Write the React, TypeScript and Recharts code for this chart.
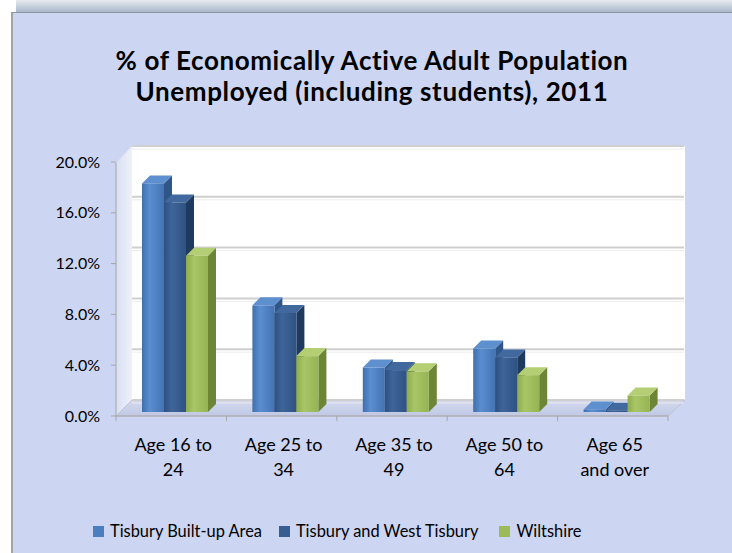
import React from 'react';
import { BarChart, Bar, XAxis, YAxis, CartesianGrid } from 'recharts';

const categories = ['Age 16 to 24', 'Age 25 to 34', 'Age 35 to 49', 'Age 50 to 64', 'Age 65 and over'];
const categoryLines = [
  ['Age 16 to', '24'],
  ['Age 25 to', '34'],
  ['Age 35 to', '49'],
  ['Age 50 to', '64'],
  ['Age 65', 'and over'],
];
const tisburyBuiltUp = [18.0, 8.4, 3.5, 5.0, 0.2];
const tisburyWest = [16.5, 7.8, 3.3, 4.3, 0.1];
const wiltshire = [12.3, 4.4, 3.2, 2.9, 1.3];
const yTicks = [0, 4, 8, 12, 16, 20];
const seriesNames = ['Tisbury Built-up Area', 'Tisbury and West Tisbury', 'Wiltshire'];
const seriesColors = ['#4A7EC0', '#375D91', '#9BBB59'];

const data = categories.map((c, i) => ({
  category: c,
  tba: tisburyBuiltUp[i],
  twt: tisburyWest[i],
  wil: wiltshire[i],
}));

const FONT = 'Lato, "Open Sans", sans-serif';
const DEPTH = 8;

const make3D = (fillId: string, top: string, side: string) => (props: any) => {
  const { x: mx, y, width, height } = props;
  if (mx == null || y == null) return <g />;
  const d = DEPTH;
  const x = mx - 4;
  const fy = y + 4;
  const h = Math.max(height || 0, 0);
  return (
    <g>
      <polygon
        points={`${x + width},${fy} ${x + width + d},${fy - d} ${x + width + d},${fy + h - d} ${x + width},${fy + h}`}
        fill={side}
      />
      <polygon
        points={`${x},${fy} ${x + d},${fy - d} ${x + width + d},${fy - d} ${x + width},${fy}`}
        fill={top}
      />
      <rect x={x} y={fy} width={width} height={h} fill={`url(#${fillId})`} />
    </g>
  );
};

const YTick = (props: any) => {
  const { y, payload } = props;
  const fy = y + 8;
  return (
    <g>
      <line x1={111} y1={fy} x2={116} y2={fy} stroke="#A6A6A6" />
      <text x={100} y={fy + 5.5} textAnchor="end" fontSize={16} fill="#000" fontFamily={FONT}>
        {`${Number(payload.value).toFixed(1)}%`}
      </text>
    </g>
  );
};

const XTick = (props: any) => {
  const { x, payload, index } = props;
  const i = categories.indexOf(payload.value);
  const lines = categoryLines[i >= 0 ? i : index] || [String(payload.value)];
  return (
    <text x={x - 6} y={451} textAnchor="middle" fontSize={18} fill="#000" fontFamily={FONT}>
      {lines.map((l, k) => (
        <tspan key={k} x={x - 6} dy={k === 0 ? 0 : 25}>
          {l}
        </tspan>
      ))}
    </text>
  );
};

const gridLine = (props: any) => {
  const { x1, y1, x2, y2, index } = props;
  return (
    <g key={`g-${index}-${y1}`}>
      <line x1={x1 + 8} y1={y1 - 8} x2={x2 + 8} y2={y2 - 8} stroke="#CFCFCF" strokeWidth={2} />
      <line x1={x1 + 8} y1={y1 - 5} x2={x2 + 8} y2={y2 - 5} stroke="#ECECEC" strokeWidth={1} />
    </g>
  );
};

export default function App() {
  return (
    <div
      style={{
        position: 'absolute',
        left: 0,
        top: 0,
        width: 732,
        height: 553,
        background: '#FFFFFF',
        overflow: 'hidden',
        fontFamily: FONT,
      }}
    >
      <div
        style={{
          position: 'absolute',
          left: 16,
          top: 0,
          width: 716,
          height: 12,
          background: 'linear-gradient(to bottom, #E6EAEF, #A9B8CA)',
        }}
      />
      <div
        style={{
          position: 'absolute',
          left: 11,
          top: 12,
          width: 721,
          height: 541,
          background: '#CCD5F2',
          borderLeft: '2px solid #A3A3A3',
          borderTop: '1px solid #8C939C',
          boxSizing: 'border-box',
        }}
      />
      <div
        style={{
          position: 'absolute',
          left: 12,
          top: 45,
          width: 720,
          textAlign: 'center',
          fontWeight: 700,
          fontSize: 26,
          letterSpacing: 0.6,
          lineHeight: '31px',
          color: '#000',
        }}
      >
        % of Economically Active Adult Population
        <br />
        Unemployed (including students), 2011
      </div>
      <svg width={732} height={553} style={{ position: 'absolute', left: 0, top: 0 }}>
        <defs>
          <linearGradient id="sideWall" x1="0" y1="0" x2="1" y2="0">
            <stop offset="0" stopColor="#D9DFF2" />
            <stop offset="1" stopColor="#EEF1F9" />
          </linearGradient>
          <linearGradient id="floorG" x1="0" y1="0" x2="0" y2="1">
            <stop offset="0" stopColor="#D3D9EE" />
            <stop offset="1" stopColor="#C0C8E6" />
          </linearGradient>
        </defs>
        <polygon points="116,163 132,146 132,400 116,416" fill="url(#sideWall)" />
        <rect x={132} y={146} width={553} height={254} fill="#FFFFFF" />
        <polygon points="116,416 132,400 685,400 668,416" fill="url(#floorG)" stroke="#BFC3CF" strokeWidth={1} />
        <line x1={116} y1={163} x2={116} y2={416} stroke="#A6A6A6" />
        <line x1={116} y1={416} x2={668} y2={416} stroke="#A6A6A6" />
        {[0, 1, 2, 3, 4, 5].map((k) => (
          <line key={k} x1={116 + k * 110.4} y1={416} x2={116 + k * 110.4} y2={421} stroke="#A6A6A6" />
        ))}
      </svg>
      <div style={{ position: 'absolute', left: 0, top: 0 }}>
        <BarChart
          width={732}
          height={553}
          data={data}
          margin={{ top: 154, right: 56, bottom: 85, left: 0 }}
          barGap={0}
          barSize={22}
        >
          <defs>
            <linearGradient id="gTba" x1="0" y1="0" x2="1" y2="0">
              <stop offset="0" stopColor="#3F6FAD" />
              <stop offset="0.35" stopColor="#5A8ED1" />
              <stop offset="1" stopColor="#4473B3" />
            </linearGradient>
            <linearGradient id="gTwt" x1="0" y1="0" x2="1" y2="0">
              <stop offset="0" stopColor="#2E5082" />
              <stop offset="0.35" stopColor="#3E6599" />
              <stop offset="1" stopColor="#2F5283" />
            </linearGradient>
            <linearGradient id="gWil" x1="0" y1="0" x2="1" y2="0">
              <stop offset="0" stopColor="#8EAC4C" />
              <stop offset="0.35" stopColor="#A9C667" />
              <stop offset="1" stopColor="#95B453" />
            </linearGradient>
          </defs>
          <CartesianGrid vertical={false} horizontal={gridLine} />
          <XAxis
            dataKey="category"
            height={60}
            axisLine={false}
            tickLine={false}
            interval={0}
            tick={<XTick />}
          />
          <YAxis
            width={124}
            domain={[0, 20]}
            ticks={yTicks}
            axisLine={false}
            tickLine={false}
            tick={<YTick />}
          />
          <Bar dataKey="tba" name={seriesNames[0]} isAnimationActive={false} shape={make3D('gTba', '#5E8FCF', '#2F5689')} />
          <Bar dataKey="twt" name={seriesNames[1]} isAnimationActive={false} shape={make3D('gTwt', '#41699E', '#1F3A5F')} />
          <Bar dataKey="wil" name={seriesNames[2]} isAnimationActive={false} shape={make3D('gWil', '#B3CE73', '#6C8636')} />
        </BarChart>
      </div>
      <div
        style={{
          position: 'absolute',
          left: 93,
          top: 521,
          display: 'flex',
          alignItems: 'center',
          fontSize: 16.4,
          color: '#000',
          lineHeight: '20px',
          whiteSpace: 'nowrap',
        }}
      >
        {seriesNames.map((n, i) => (
          <div key={n} style={{ display: 'flex', alignItems: 'center', marginRight: i === 1 ? 21 : 17 }}>
            <span style={{ width: 11, height: 11, background: seriesColors[i], display: 'inline-block', marginRight: 6 }} />
            <span>{n}</span>
          </div>
        ))}
      </div>
    </div>
  );
}
